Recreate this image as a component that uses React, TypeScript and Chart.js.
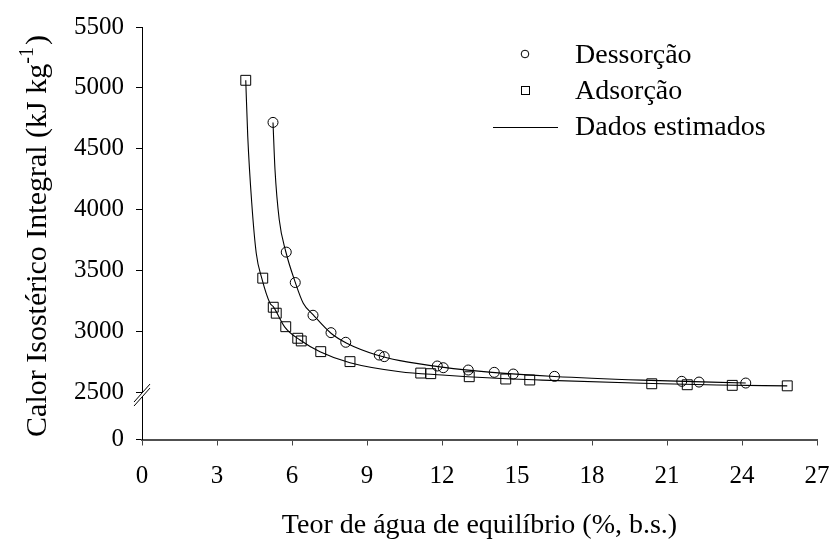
import { useEffect, useRef } from "react";
import { Chart, registerables } from "chart.js";

Chart.register(...registerables);

const FONT = '"Liberation Serif", "Times New Roman", Times, serif';

// Moisture content (% d.b.) and integral isosteric heat (kJ/kg), desorption
const desX = [5.24, 5.77, 6.13, 6.84, 7.56, 8.15, 9.49, 9.69, 11.81, 12.05, 13.05, 14.09, 14.85, 16.5, 21.59, 22.28, 24.15];
const desY = [4716, 3650, 3400, 3131, 2988, 2909, 2804, 2791, 2714, 2700, 2681, 2662, 2648, 2629, 2588, 2582, 2574];

// Adsorption
const adsX = [4.15, 4.83, 5.25, 5.37, 5.75, 6.23, 6.37, 7.15, 8.32, 11.15, 11.55, 13.09, 14.55, 15.51, 20.39, 21.81, 23.61, 25.81];
const adsY = [5062, 3436, 3197, 3148, 3037, 2942, 2920, 2832, 2750, 2656, 2651, 2626, 2607, 2599, 2568, 2560, 2555, 2551];

// Estimated (fitted) curves
const desFitX = [5.24, 5.32, 5.49, 5.75, 6.12, 6.45, 6.85, 7.56, 8.19, 9.39, 10.32, 12, 14, 16.5, 20, 24.15];
const desFitY = [4716, 4327, 3916, 3655, 3408, 3230, 3134, 2983, 2901, 2804, 2758, 2705, 2662, 2628, 2598, 2574];
const adsFitX = [4.15, 4.23, 4.39, 4.57, 4.79, 5.12, 5.25, 5.72, 6.32, 7.12, 8.32, 10.32, 12, 14, 16, 20, 23, 25.81];
const adsFitY = [5062, 4601, 4053, 3641, 3436, 3230, 3202, 3032, 2928, 2832, 2741, 2667, 2640, 2615, 2598, 2572, 2558, 2551];

// Axes: the y axis is broken just above zero
const xMin = 0;
const xMax = 27;
const xStep = 3;
const yMin = 2110;
const yMax = 5500;
const yBreakValue = 2500;
const yTickValues = [2110, 2500, 3000, 3500, 4000, 4500, 5000, 5500];
const yTickLabels = ["0", "2500", "3000", "3500", "4000", "4500", "5000", "5500"];

const legendLabels = ["Dessorção", "Adsorção", "Dados estimados"];
const xTitle = "Teor de água de equilíbrio (%, b.s.)";
const yTitleMain = "Calor Isostérico Integral (kJ kg";
const yTitleSup = "-1";
const yTitleEnd = ")";

const toPoints = (xs: number[], ys: number[]) => xs.map((x, i) => ({ x, y: ys[i] }));

const decorations = {
  id: "decorations",
  afterDraw(chart: any) {
    const { ctx, chartArea, scales } = chart;
    const ys = scales.y;
    ctx.save();

    // axis break marks on the y axis
    const bx = chartArea.left;
    const by = ys.getPixelForValue(yBreakValue) + 2;
    ctx.fillStyle = "#fff";
    ctx.beginPath();
    ctx.moveTo(bx - 8, by + 8);
    ctx.lineTo(bx + 8, by - 10);
    ctx.lineTo(bx + 8, by - 6);
    ctx.lineTo(bx - 8, by + 12);
    ctx.closePath();
    ctx.fill();
    ctx.strokeStyle = "#000";
    ctx.lineWidth = 1;
    ctx.beginPath();
    ctx.moveTo(bx - 8, by + 8);
    ctx.lineTo(bx + 8, by - 10);
    ctx.moveTo(bx - 8, by + 12);
    ctx.lineTo(bx + 8, by - 6);
    ctx.stroke();

    // legend
    ctx.fillStyle = "#000";
    ctx.font = `28px ${FONT}`;
    ctx.textAlign = "left";
    ctx.textBaseline = "alphabetic";
    const tx = 575;
    const base = [63, 99, 135];
    legendLabels.forEach((t, i) => ctx.fillText(t, tx, base[i]));
    ctx.lineWidth = 1;
    ctx.beginPath();
    ctx.arc(525, 54, 3.8, 0, Math.PI * 2);
    ctx.stroke();
    ctx.strokeRect(521.5, 86.5, 8, 8);
    ctx.beginPath();
    ctx.moveTo(493, 127.5);
    ctx.lineTo(558, 127.5);
    ctx.stroke();

    // x axis title
    ctx.font = `28px ${FONT}`;
    ctx.textAlign = "center";
    ctx.fillText(xTitle, (chartArea.left + chartArea.right) / 2, 533);

    // y axis title with superscript
    ctx.translate(46, 236);
    ctx.rotate(-Math.PI / 2);
    ctx.textAlign = "left";
    ctx.font = `30px ${FONT}`;
    const w1 = ctx.measureText(yTitleMain).width;
    const w3 = ctx.measureText(yTitleEnd).width;
    ctx.font = `20px ${FONT}`;
    const w2 = ctx.measureText(yTitleSup).width;
    let x0 = -(w1 + w2 + w3 + 2) / 2;
    ctx.font = `30px ${FONT}`;
    ctx.fillText(yTitleMain, x0, 0);
    x0 += w1;
    ctx.font = `20px ${FONT}`;
    ctx.fillText(yTitleSup, x0, -13);
    x0 += w2 + 2;
    ctx.font = `30px ${FONT}`;
    ctx.fillText(yTitleEnd, x0, 0);

    ctx.restore();
  },
};

export default function App() {
  const ref = useRef<HTMLCanvasElement | null>(null);

  useEffect(() => {
    document.body.style.margin = "0";
    const canvas = ref.current;
    if (!canvas) return;
    const chart = new Chart(canvas, {
      type: "scatter",
      data: {
        datasets: [
          {
            label: "fit-des",
            data: toPoints(desFitX, desFitY),
            showLine: true,
            cubicInterpolationMode: "monotone",
            borderColor: "#000",
            borderWidth: 1.1,
            pointRadius: 0,
            fill: false,
          },
          {
            label: "fit-ads",
            data: toPoints(adsFitX, adsFitY),
            showLine: true,
            cubicInterpolationMode: "monotone",
            borderColor: "#000",
            borderWidth: 1.1,
            pointRadius: 0,
            fill: false,
          },
          {
            label: legendLabels[0],
            data: toPoints(desX, desY),
            pointStyle: "circle",
            pointRadius: 5,
            borderColor: "#000",
            borderWidth: 1,
            backgroundColor: "rgba(0,0,0,0)",
          },
          {
            label: legendLabels[1],
            data: toPoints(adsX, adsY),
            pointStyle: "rect",
            pointRadius: 7,
            borderColor: "#000",
            borderWidth: 1,
            backgroundColor: "rgba(0,0,0,0)",
          },
        ],
      } as any,
      options: {
        responsive: false,
        animation: false,
        devicePixelRatio: 1,
        layout: { padding: { top: 27, right: 19, left: 0, bottom: 0 } },
        plugins: { legend: { display: false }, tooltip: { enabled: false } },
        scales: {
          x: {
            type: "linear",
            min: xMin,
            max: xMax,
            ticks: {
              stepSize: xStep,
              color: "#000",
              padding: 16,
              font: { family: FONT, size: 25 },
              maxRotation: 0,
            },
            grid: { drawOnChartArea: false, drawTicks: true, tickLength: 6, color: "#444", lineWidth: 1 },
            border: { display: true, color: "#505050", width: 2 },
            afterFit: (s: any) => {
              s.height = 540 - 439.5;
              s.paddingLeft = 0;
              s.paddingRight = 0;
            },
          },
          y: {
            type: "linear",
            min: yMin,
            max: yMax,
            afterBuildTicks: (s: any) => {
              s.ticks = yTickValues.map((v) => ({ value: v }));
            },
            ticks: {
              color: "#000",
              padding: 12,
              font: { family: FONT, size: 25 },
              callback: (v: any) => yTickLabels[yTickValues.indexOf(Number(v))] ?? "",
            },
            grid: { drawOnChartArea: false, drawTicks: true, tickLength: 6, color: "#000", lineWidth: 1 },
            border: { display: true, color: "#000", width: 1 },
            afterFit: (s: any) => {
              s.width = 142;
              s.paddingTop = 0;
              s.paddingBottom = 0;
            },
          },
        },
      } as any,
      plugins: [decorations],
    });
    return () => chart.destroy();
  }, []);

  return <canvas ref={ref} width={836} height={540} style={{ display: "block" }} />;
}
